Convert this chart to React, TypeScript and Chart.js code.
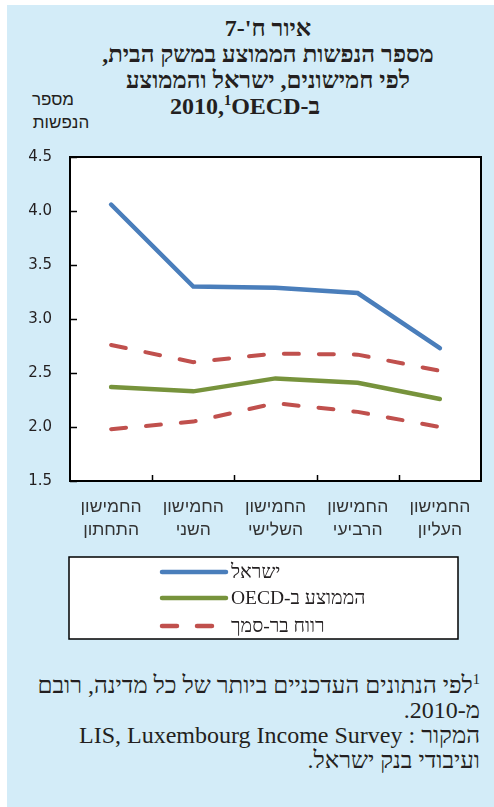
import React, { useEffect, useRef } from "react";
import { Chart, registerables } from "chart.js";

Chart.register(...registerables);

// ---- data ----
const categories: string[][] = [
  ["החמישון", "התחתון"],
  ["החמישון", "השני"],
  ["החמישון", "השלישי"],
  ["החמישון", "הרביעי"],
  ["החמישון", "העליון"],
];
const israel = [4.06, 3.3, 3.29, 3.24, 2.73];
const oecdAvg = [2.37, 2.33, 2.45, 2.41, 2.26];
const ciUpper = [2.76, 2.6, 2.68, 2.67, 2.52];
const ciLower = [1.98, 2.05, 2.22, 2.14, 2.0];
const yMin = 1.5;
const yMax = 4.5;
const yStep = 0.5;
const seriesNames = ["ישראל", "הממוצע ב-OECD", "רווח בר-סמך"];

const BLUE = "#4a7ebb";
const GREEN = "#77933c";
const RED = "#c0504d";
const INK = "#231f20";

const framePlugin = {
  id: "frameAndLegend",
  beforeDraw(chart: any) {
    const { ctx, chartArea } = chart;
    const { left, top, right, bottom } = chartArea;
    ctx.save();
    ctx.fillStyle = "#ffffff";
    ctx.fillRect(left, top, right - left, bottom - top);
    ctx.restore();
  },
  afterDraw(chart: any) {
    const { ctx, chartArea } = chart;
    const { left, top, right, bottom } = chartArea;
    const xs = chart.scales.x;
    const ys = chart.scales.y;
    ctx.save();
    ctx.strokeStyle = "#000";
    ctx.lineWidth = 2;
    ctx.setLineDash([]);
    ctx.strokeRect(left, top, right - left, bottom - top);
    // inward y ticks
    ctx.beginPath();
    ys.ticks.forEach((t: any) => {
      const py = Math.round(ys.getPixelForValue(t.value)) + 0.5;
      ctx.moveTo(left, py);
      ctx.lineTo(left + 7, py);
    });
    // inward x ticks between categories
    const n = chart.data.labels.length;
    for (let i = 1; i < n; i++) {
      const px = Math.round((xs.getPixelForValue(i - 1) + xs.getPixelForValue(i)) / 2) + 0.5;
      ctx.moveTo(px, bottom);
      ctx.lineTo(px, bottom - 6);
    }
    ctx.lineWidth = 1.5;
    ctx.stroke();

    // legend box
    const bx = left - 1;
    const by = bottom + 76;
    const bw = 389;
    const bh = 82;
    ctx.fillStyle = "#ffffff";
    ctx.fillRect(bx, by, bw, bh);
    ctx.strokeStyle = "#000";
    ctx.lineWidth = 1.5;
    ctx.strokeRect(bx, by, bw, bh);
    const rows = [15, 41, 69];
    const dsIdx = [0, 1, 2];
    dsIdx.forEach((di, r) => {
      const ds = chart.data.datasets[di];
      const y = by + rows[r];
      ctx.beginPath();
      ctx.strokeStyle = ds.borderColor;
      ctx.lineWidth = 4.5;
      ctx.lineCap = "round";
      ctx.setLineDash(ds.borderDash || []);
      ctx.moveTo(bx + 93, y);
      ctx.lineTo(bx + 157, y);
      ctx.stroke();
      ctx.setLineDash([]);
      ctx.fillStyle = INK;
      ctx.font = "19.5px 'Liberation Serif', serif";
      ctx.textBaseline = "middle";
      (ctx as any).direction = "rtl";
      ctx.textAlign = "left";
      ctx.fillText(seriesNames[r], bx + 162, y + 1);
    });
    ctx.restore();
  },
};

function ChartCanvas() {
  const ref = useRef<HTMLCanvasElement | null>(null);
  useEffect(() => {
    if (!ref.current) return;
    const chart = new Chart(ref.current, {
      type: "line",
      data: {
        labels: categories as any,
        datasets: [
          {
            label: seriesNames[0],
            data: israel,
            borderColor: BLUE,
            backgroundColor: BLUE,
            borderWidth: 4.5,
            borderCapStyle: "round",
            pointRadius: 0,
            tension: 0,
          },
          {
            label: seriesNames[1],
            data: oecdAvg,
            borderColor: GREEN,
            backgroundColor: GREEN,
            borderWidth: 4.5,
            borderCapStyle: "round",
            pointRadius: 0,
            tension: 0,
          },
          {
            label: seriesNames[2],
            data: ciUpper,
            borderColor: RED,
            backgroundColor: RED,
            borderWidth: 4,
            borderDash: [15, 20],
            borderCapStyle: "round",
            pointRadius: 0,
            tension: 0,
          },
          {
            label: seriesNames[2] + " ",
            data: ciLower,
            borderColor: RED,
            backgroundColor: RED,
            borderWidth: 4,
            borderDash: [15, 20],
            borderCapStyle: "round",
            pointRadius: 0,
            tension: 0,
          },
        ],
      },
      options: {
        animation: false,
        responsive: false,
        layout: { padding: { left: 0, right: 13, top: 21, bottom: 109 } },
        plugins: {
          legend: { display: false },
          tooltip: { enabled: false },
          title: { display: false },
        },
        scales: {
          x: {
            type: "category",
            offset: true,
            grid: { display: false, drawTicks: false },
            border: { display: false },
            ticks: {
              autoSkip: false,
              maxRotation: 0,
              color: "#333",
              padding: 15,
              font: { family: "'Liberation Sans', Arial, sans-serif", size: 17.5, lineHeight: "23px" as any },
            },
            afterFit(scale: any) {
              scale.height = 60;
            },
          },
          y: {
            min: yMin,
            max: yMax,
            grid: { display: false, drawTicks: false },
            border: { display: false },
            ticks: {
              stepSize: yStep,
              color: INK,
              padding: 18,
              font: { family: "'DejaVu Sans', sans-serif", size: 15 },
              callback: (v: any) => Number(v).toFixed(1),
            },
            afterFit(scale: any) {
              scale.width = 63;
            },
          },
        },
      } as any,
      plugins: [framePlugin as any],
    });
    return () => chart.destroy();
  }, []);
  return (
    <canvas
      ref={ref}
      width={487}
      height={520}
      style={{ position: "absolute", left: 7, top: 130, width: 487, height: 520 }}
    />
  );
}

export default function App() {
  const serif = "'Liberation Serif', 'Times New Roman', serif";
  const sans = "'Liberation Sans', Arial, sans-serif";
  const titleLine: React.CSSProperties = { whiteSpace: "nowrap", height: 26, lineHeight: "26px" };
  const noteLine: React.CSSProperties = { whiteSpace: "nowrap", height: 25, lineHeight: "25px" };
  return (
    <div
      style={{
        position: "fixed",
        left: 0,
        top: 0,
        width: 494,
        height: 807,
        background: "#ffffff",
        overflow: "hidden",
        color: INK,
      }}
    >
      <div style={{ position: "absolute", left: 7, top: 5, right: 0, bottom: 0, background: "#d3ecf8" }} />
      <div
        style={{
          position: "absolute",
          left: 42,
          width: 452,
          top: 15,
          textAlign: "center",
          fontFamily: serif,
          fontWeight: "bold",
          fontSize: 24,
        }}
      >
        <div dir="rtl" style={titleLine}>איור ח'-7</div>
        <div dir="rtl" style={titleLine}>מספר הנפשות הממוצע במשק הבית,</div>
        <div dir="rtl" style={titleLine}>לפי חמישונים, ישראל והממוצע</div>
        <div dir="ltr" style={{ ...titleLine, paddingRight: 46 }}>
          2010,<sup style={{ fontSize: "0.6em", lineHeight: 0 }}>1</sup>OECD-ב
        </div>
      </div>
      <div
        dir="rtl"
        style={{ position: "absolute", left: 23, width: 60, top: 88, textAlign: "center", fontFamily: sans, fontSize: 17, lineHeight: "24px", whiteSpace: "nowrap" }}
      >
        מספר
      </div>
      <div
        dir="rtl"
        style={{ position: "absolute", left: 21, width: 80, top: 111, textAlign: "center", fontFamily: sans, fontSize: 17, lineHeight: "24px", whiteSpace: "nowrap" }}
      >
        הנפשות
      </div>
      <ChartCanvas />
      <div
        dir="rtl"
        style={{ position: "absolute", right: 14, top: 673, textAlign: "right", fontFamily: serif, fontSize: 24 }}
      >
        <div style={noteLine}>
          <sup style={{ fontSize: "0.6em", lineHeight: 0 }}>1</sup>לפי הנתונים העדכניים ביותר של כל מדינה, רובם
        </div>
        <div style={noteLine}>מ-2010.</div>
        <div style={noteLine}>המקור : LIS, Luxembourg Income Survey</div>
        <div style={noteLine}>ועיבודי בנק ישראל.</div>
      </div>
    </div>
  );
}
